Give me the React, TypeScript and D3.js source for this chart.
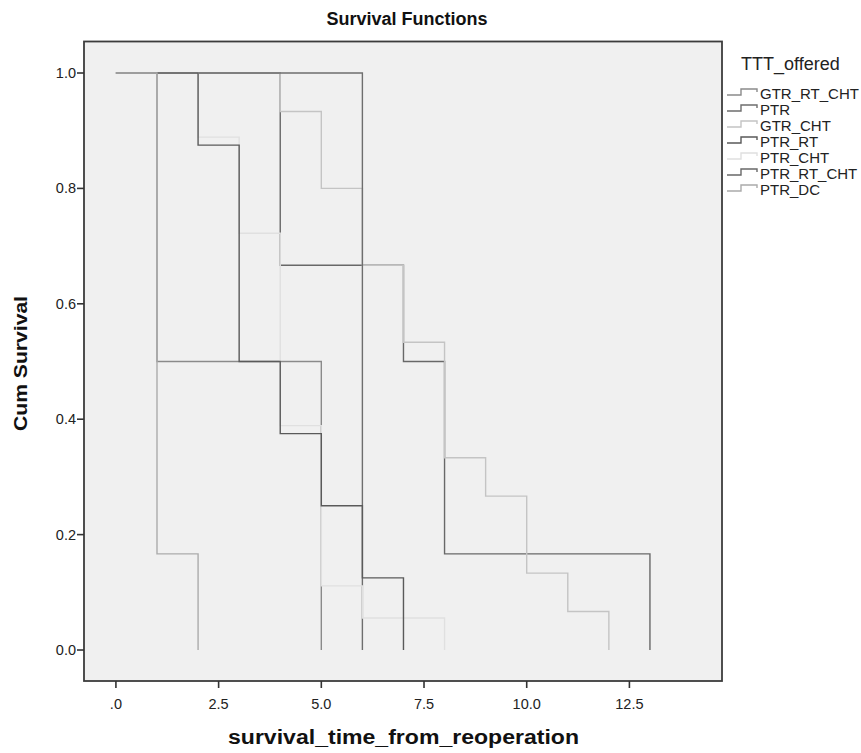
import React from "react";
import * as d3 from "d3";

const groups = ["GTR_RT_CHT", "PTR", "GTR_CHT", "PTR_RT", "PTR_CHT", "PTR_RT_CHT", "PTR_DC"];
const colors = ["#8a8a8a", "#6e6e6e", "#c4c4c4", "#5a5a5a", "#e0e0e0", "#686868", "#ababab"];

// step survival curves: event times and cumulative survival after each time
const timesGTR_RT_CHT = [0, 1, 5];
const survGTR_RT_CHT = [1, 0.5, 0];
const timesPTR = [0, 6];
const survPTR = [1, 0];
const timesGTR_CHT = [0, 4, 5, 6, 7, 8, 9, 10, 11, 12];
const survGTR_CHT = [1, 0.9333, 0.8, 0.6667, 0.5333, 0.3333, 0.2667, 0.1333, 0.0667, 0];
const timesPTR_RT = [0, 2, 3, 4, 5, 6, 7];
const survPTR_RT = [1, 0.875, 0.5, 0.375, 0.25, 0.125, 0];
const timesPTR_CHT = [0, 2, 3, 4, 5, 6, 8];
const survPTR_CHT = [1, 0.8889, 0.7222, 0.3889, 0.1111, 0.0556, 0];
const timesPTR_RT_CHT = [0, 4, 7, 8, 13];
const survPTR_RT_CHT = [1, 0.6667, 0.5, 0.1667, 0];
const timesPTR_DC = [0, 1, 2];
const survPTR_DC = [1, 0.1667, 0];

const seriesTimes = [timesGTR_RT_CHT, timesPTR, timesGTR_CHT, timesPTR_RT, timesPTR_CHT, timesPTR_RT_CHT, timesPTR_DC];
const seriesSurv = [survGTR_RT_CHT, survPTR, survGTR_CHT, survPTR_RT, survPTR_CHT, survPTR_RT_CHT, survPTR_DC];
// drawing order (bottom -> top)
const drawOrder = [0, 5, 2, 1, 4, 3, 6];

const xTicks = [0, 2.5, 5, 7.5, 10, 12.5];
const xTickLabels = [".0", "2.5", "5.0", "7.5", "10.0", "12.5"];
const yTicks = [0, 0.2, 0.4, 0.6, 0.8, 1.0];
const yTickLabels = ["0.0", "0.2", "0.4", "0.6", "0.8", "1.0"];

const W = 861, H = 753;
const frame = { left: 84, right: 722, top: 41.5, bottom: 681 };
const FONT = "'Liberation Sans', Arial, sans-serif";

export default function App() {
  const x = d3.scaleLinear().domain([-0.777, 14.754]).range([frame.left, frame.right]);
  const y = d3.scaleLinear().domain([-0.0537, 1.0546]).range([frame.bottom, frame.top]);
  const line = d3
    .line<[number, number]>()
    .x((d) => x(d[0]))
    .y((d) => y(d[1]))
    .curve(d3.curveStepAfter);

  const paths = drawOrder.map((i) => {
    const pts: [number, number][] = seriesTimes[i].map((t, k) => [t, seriesSurv[i][k]]);
    return { i, d: line(pts) || "" };
  });

  const legendX = 727;
  const legendY0 = 93;
  const legendDy = 16;

  return (
    <div style={{ position: "absolute", left: 0, top: 0 }}>
      <svg width={W} height={H} style={{ display: "block", background: "#fff" }}>
        <text x={407} y={25} textAnchor="middle" fontFamily={FONT} fontWeight="bold" fontSize={18} fill="#111">
          Survival Functions
        </text>
        <rect
          x={frame.left}
          y={frame.top}
          width={frame.right - frame.left}
          height={frame.bottom - frame.top}
          fill="#f0f0f0"
          stroke="#3c3c3c"
          strokeWidth={1.8}
        />
        {paths.map((p) => (
          <path key={p.i} d={p.d} fill="none" stroke={colors[p.i]} strokeWidth={1.4} />
        ))}
        {/* y axis */}
        {yTicks.map((v, k) => (
          <g key={"y" + k}>
            <line x1={frame.left - 7} x2={frame.left} y1={y(v)} y2={y(v)} stroke="#333" strokeWidth={1.6} />
            <text x={frame.left - 8} y={y(v) + 5} textAnchor="end" fontFamily={FONT} fontSize={14.5} fill="#222">
              {yTickLabels[k]}
            </text>
          </g>
        ))}
        {/* x axis */}
        {xTicks.map((t, k) => (
          <g key={"x" + k}>
            <line x1={x(t)} x2={x(t)} y1={frame.bottom} y2={frame.bottom + 7} stroke="#333" strokeWidth={1.6} />
            <text x={x(t)} y={frame.bottom + 28} textAnchor="middle" fontFamily={FONT} fontSize={14.5} fill="#222">
              {xTickLabels[k]}
            </text>
          </g>
        ))}
        <text
          transform={`translate(27, 363.5) rotate(-90)`}
          textAnchor="middle"
          fontFamily={FONT}
          fontWeight="bold"
          fontSize={18}
          textLength={135}
          lengthAdjust="spacingAndGlyphs"
          fill="#111"
        >
          Cum Survival
        </text>
        <text
          x={403.5}
          y={744}
          textAnchor="middle"
          fontFamily={FONT}
          fontWeight="bold"
          fontSize={20}
          textLength={351}
          lengthAdjust="spacingAndGlyphs"
          fill="#111"
        >
          survival_time_from_reoperation
        </text>
        {/* legend */}
        <text x={741} y={70} fontFamily={FONT} fontSize={18} fill="#222">
          TTT_offered
        </text>
        {groups.map((g, k) => {
          const cy = legendY0 + k * legendDy;
          return (
            <g key={g}>
              <path
                d={`M${legendX},${cy + 2}H${legendX + 14}V${cy - 4}H${legendX + 30}V${cy - 1}`}
                fill="none"
                stroke={colors[k]}
                strokeWidth={1.4}
              />
              <text x={legendX + 33} y={cy + 5.5} fontFamily={FONT} fontSize={15} fill="#222">
                {g}
              </text>
            </g>
          );
        })}
      </svg>
    </div>
  );
}
